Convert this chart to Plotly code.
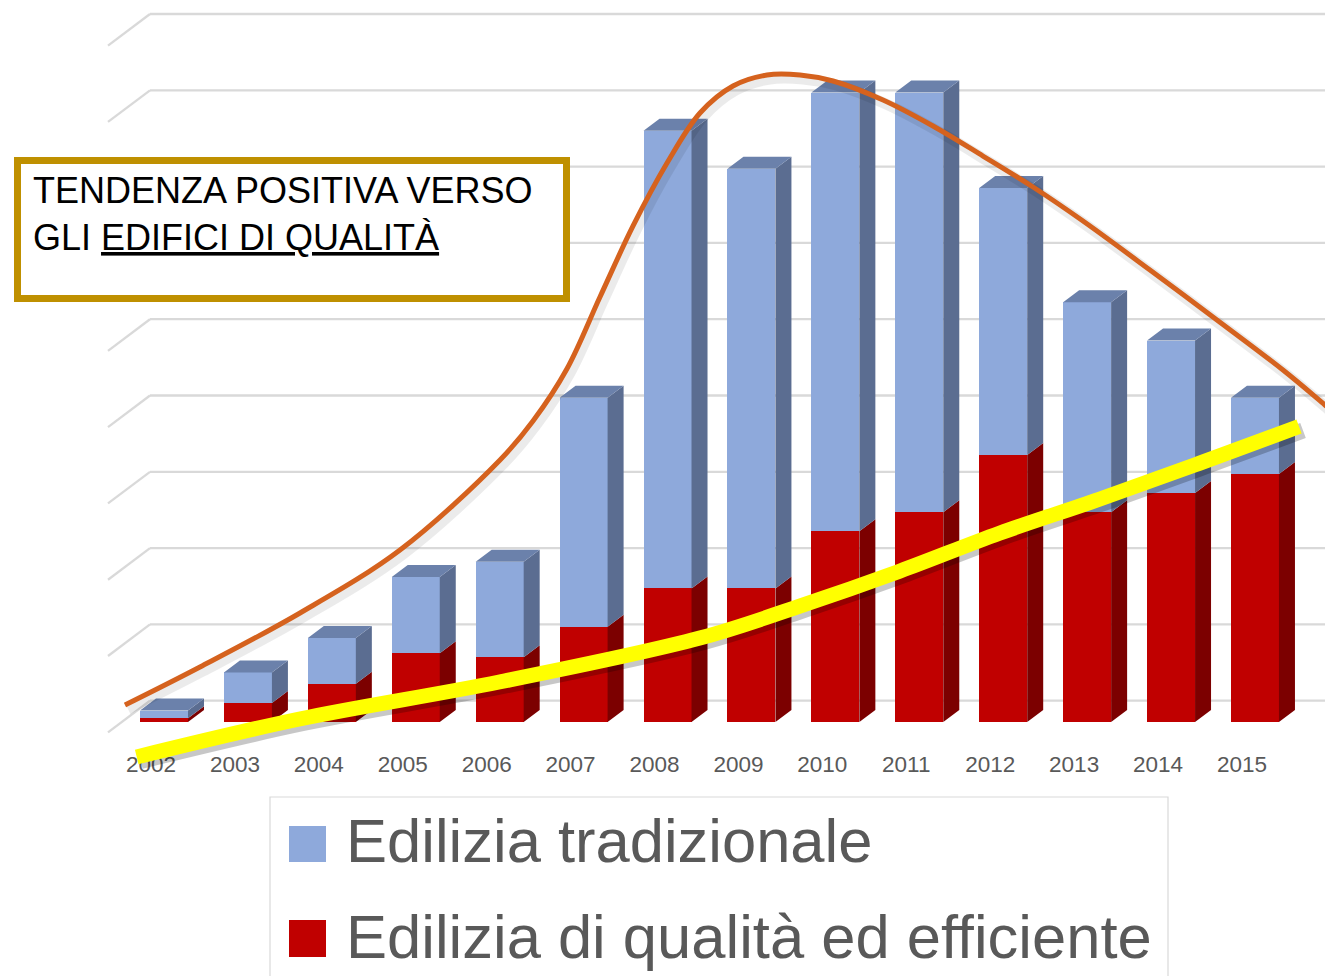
import plotly.graph_objects as go

# ---------------- data ----------------
years = list(range(2002, 2016))
tick_labels = [str(y) for y in years]
edilizia_qualita = [0.5, 2.5, 5, 9, 8.5, 12.5, 17.5, 17.5, 25, 27.5, 35, 27.5, 30, 32.5]
edilizia_tradizionale = [1, 4, 6, 10, 12.5, 30, 60, 55, 57.5, 55, 35, 27.5, 20, 10]

# hand-drawn trend annotations (year position, value)
curva_x = [2001.690, 2002.584, 2003.776, 2004.967, 2006.159, 2006.552, 2006.957, 2007.350,
           2007.744, 2008.149, 2008.542, 2008.935, 2009.340, 2009.734, 2010.127, 2010.723,
           2011.318, 2011.914, 2012.510, 2013.106, 2013.904, 2014.702, 2015.489, 2015.989, 2016.227]
curva_y = [2.23, 7.21, 14.29, 22.54, 34.34, 39.45, 46.30, 55.70,
           65.01, 73.26, 79.82, 83.36, 84.80, 84.80, 84.01, 81.52,
           78.11, 74.18, 70.12, 65.66, 59.24, 52.69, 46.13, 41.55, 39.32]
tendenza_x = [2001.83, 2003.77, 2006.15, 2008.54, 2009.73, 2010.92, 2012.11, 2013.30, 2014.49, 2015.68]
tendenza_y = [-4.58, 0.39, 5.24, 11.0, 15.18, 19.76, 24.74, 29.19, 33.90, 38.74]

legend_labels = ["Edilizia tradizionale", "Edilizia di qualità ed efficiente"]
box_line1 = "TENDENZA POSITIVA VERSO"
box_line2 = "GLI <u>EDIFICI DI QUALITÀ</u>"

# ---------------- geometry / style ----------------
W, H = 1325, 976
PX_X = 83.92           # px per year
PX_Y = 7.63            # px per value unit
BASE_PX = 722
X_LEFT = 2002 - 151 / PX_X
X_RIGHT = X_LEFT + W / PX_X
Y_TOP = BASE_PX / PX_Y
Y_BOT = -(H - BASE_PX) / PX_Y

BAR_OFF = -11 / PX_X
BAR_W = 48 / PX_X
DX = 16 / PX_X
DY = 12 / PX_Y

BLUE, BLUE_SIDE, BLUE_TOP = "#8EA9DB", "#5B6D91", "#6B81AB"
RED, RED_SIDE = "#C00000", "#7C0000"
ORANGE = "#D5621E"
FONT = "Liberation Sans, Arial, sans-serif"

fig = go.Figure()

# gridlines on back wall (perspective)
WALL0 = 2.79
shapes = []
for k in range(10):
    gy = WALL0 + 10 * k
    shapes.append(dict(type="line", xref="x", yref="y", x0=2002 - 1 / PX_X, x1=X_RIGHT + 1,
                       y0=gy, y1=gy, line=dict(color="#D9D9D9", width=2.3), layer="below"))
    shapes.append(dict(type="line", xref="x", yref="y", x0=2002 - 43 / PX_X, x1=2002 - 1 / PX_X,
                       y0=gy - 31.6 / PX_Y, y1=gy, line=dict(color="#D9D9D9", width=2.3), layer="below"))

# front faces
fig.add_trace(go.Bar(x=years, y=edilizia_qualita, name=legend_labels[1], marker_color=RED,
                     marker_line_width=0, offset=BAR_OFF, width=BAR_W, hoverinfo="skip"))
fig.add_trace(go.Bar(x=years, y=edilizia_tradizionale, name=legend_labels[0], marker_color=BLUE,
                     marker_line_width=0, offset=BAR_OFF, width=BAR_W, hoverinfo="skip"))

# 3D side and top faces derived from the data
def poly_trace(xs, ys, color):
    return go.Scatter(x=xs, y=ys, mode="lines", fill="toself", fillcolor=color,
                      line=dict(width=0, color=color), hoverinfo="skip", showlegend=False)

rs_x, rs_y, bs_x, bs_y, tp_x, tp_y = [], [], [], [], [], []
for yr, r, b in zip(years, edilizia_qualita, edilizia_tradizionale):
    xl = yr + BAR_OFF
    xr = xl + BAR_W
    tot = r + b
    rs_x += [xr, xr + DX, xr + DX, xr, xr, None]
    rs_y += [0, DY, r + DY, r, 0, None]
    bs_x += [xr, xr + DX, xr + DX, xr, xr, None]
    bs_y += [r, r + DY, tot + DY, tot, r, None]
    tp_x += [xl, xl + DX, xr + DX, xr, xl, None]
    tp_y += [tot, tot + DY, tot + DY, tot, tot, None]
fig.add_trace(poly_trace(rs_x, rs_y, RED_SIDE))
fig.add_trace(poly_trace(bs_x, bs_y, BLUE_SIDE))
fig.add_trace(poly_trace(tp_x, tp_y, BLUE_TOP))

# orange curve with soft shadow
sx, sy = 3 / PX_X, -4 / PX_Y
fig.add_trace(go.Scatter(x=[v + sx for v in curva_x], y=[v + sy for v in curva_y], mode="lines",
                         line=dict(color="rgba(0,0,0,0.08)", width=11, shape="spline"),
                         hoverinfo="skip", showlegend=False))
fig.add_trace(go.Scatter(x=curva_x, y=curva_y, mode="lines",
                         line=dict(color=ORANGE, width=5, shape="spline", smoothing=1.0),
                         hoverinfo="skip", showlegend=False))

# yellow trend with shadow
fig.add_trace(go.Scatter(x=[v + 4 / PX_X for v in tendenza_x], y=[v - 4 / PX_Y for v in tendenza_y],
                         mode="lines", line=dict(color="rgba(0,0,0,0.22)", width=16, shape="spline"),
                         hoverinfo="skip", showlegend=False))
fig.add_trace(go.Scatter(x=tendenza_x, y=tendenza_y, mode="lines",
                         line=dict(color="#FFFF00", width=15, shape="spline"),
                         hoverinfo="skip", showlegend=False))

def px(v):
    return v / W

def py(v):
    return (H - v) / H

# text box
shapes.append(dict(type="rect", xref="paper", yref="paper", x0=px(17.5), x1=px(566.5),
                   y0=py(298.5), y1=py(160.5), line=dict(color="#BF9000", width=7),
                   fillcolor="white", layer="above"))
# legend box and swatches
shapes.append(dict(type="rect", xref="paper", yref="paper", x0=px(270), x1=px(1168),
                   y0=-0.02, y1=py(797), line=dict(color="#D9D9D9", width=1.2),
                   fillcolor="white", layer="above"))
shapes.append(dict(type="rect", xref="paper", yref="paper", x0=px(289), x1=px(326),
                   y0=py(862), y1=py(826), line=dict(width=0), fillcolor=BLUE, layer="above"))
shapes.append(dict(type="rect", xref="paper", yref="paper", x0=px(289), x1=px(326),
                   y0=py(957), y1=py(920), line=dict(width=0), fillcolor=RED, layer="above"))

annotations = [
    dict(text=box_line1, x=px(31), y=py(190), xref="paper", yref="paper", xanchor="left",
         yanchor="middle", showarrow=False, font=dict(family=FONT, size=36, color="black")),
    dict(text=box_line2, x=px(31), y=py(238), xref="paper", yref="paper", xanchor="left",
         yanchor="middle", showarrow=False, font=dict(family=FONT, size=36, color="black")),
    dict(text=legend_labels[0], x=px(344), y=py(840), xref="paper", yref="paper", xanchor="left",
         yanchor="middle", showarrow=False, font=dict(family=FONT, size=61.5, color="#595959")),
    dict(text=legend_labels[1], x=px(344), y=py(936), xref="paper", yref="paper", xanchor="left",
         yanchor="middle", showarrow=False, font=dict(family=FONT, size=61.5, color="#595959")),
]

fig.update_layout(
    width=W, height=H, margin=dict(l=0, r=0, t=0, b=0),
    paper_bgcolor="white", plot_bgcolor="white",
    barmode="stack", showlegend=False,
    shapes=shapes, annotations=annotations,
    xaxis=dict(range=[X_LEFT, X_RIGHT], tickvals=years, ticktext=tick_labels,
               tickfont=dict(family=FONT, size=22.5, color="#595959"),
               showgrid=False, zeroline=False, showline=False, ticks="",
               anchor="free", position=py(748), layer="below traces", fixedrange=True),
    yaxis=dict(range=[Y_BOT, Y_TOP], visible=False, showgrid=False, zeroline=False, fixedrange=True),
)

fig.write_html("out.html", config={"displayModeBar": False},
               post_script="document.body.style.margin='0';document.body.style.overflow='hidden';")
